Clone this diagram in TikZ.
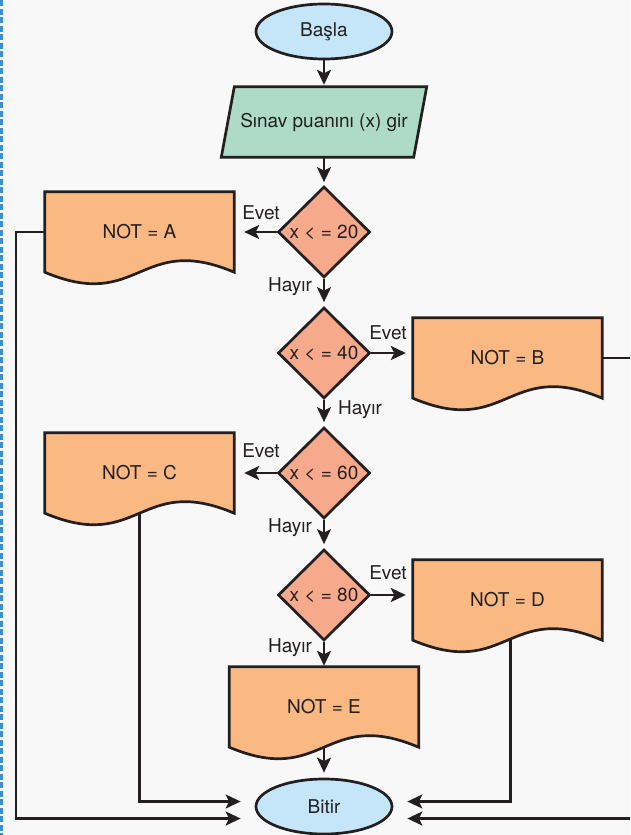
\documentclass[tikz,border=0pt]{standalone}
\usepackage{fontspec}
\setmainfont{TeX Gyre Heros}
\usetikzlibrary{shapes.geometric,arrows.meta}
\pgfdeclarelayer{backdrop}
\pgfdeclarelayer{shapes}
\pgfsetlayers{backdrop,shapes,main}
\definecolor{bgc}{RGB}{248,248,248}
\definecolor{ink}{RGB}{35,31,32}
\definecolor{termfill}{RGB}{197,230,248}
\definecolor{iofill}{RGB}{174,219,200}
\definecolor{decfill}{RGB}{247,169,140}
\definecolor{docfill}{RGB}{250,185,131}
\definecolor{edgeblue}{RGB}{60,140,215}
\tikzset{
 base/.style={font=\fontsize{19}{21}\selectfont, text=ink},
 term/.style={base, ellipse, draw=ink, line width=2.7pt, fill=termfill, minimum width=136pt, minimum height=55pt, inner sep=0pt},
 iobox/.style={base, rectangle, minimum width=192pt, minimum height=70pt, inner sep=0pt},
 ioline/.style={draw=ink, line width=2.7pt, fill=iofill, line join=miter},
 dec/.style={base, diamond, draw=ink, line width=2.7pt, fill=decfill, minimum width=92pt, minimum height=91pt, inner sep=0pt, aspect=1},
 docbox/.style={base, rectangle, minimum width=189pt, minimum height=80pt, inner sep=0pt},
 docline/.style={draw=ink, line width=2.7pt, fill=docfill, line join=miter},
 lbl/.style={base, inner sep=0pt},
 conn/.style={draw=ink, line width=2.6pt, -{Stealth[length=15pt,width=14pt,inset=3.5pt]}},
}
\newcommand{\docpath}[1]{\path[docline] (#1.north west) -- (#1.north east) -- (#1.south east) .. controls ([yshift=40pt]#1.south) and ([yshift=-40pt]#1.south) .. (#1.south west) -- cycle;}
\begin{document}
\begin{tikzpicture}[x=1pt,y=-1pt]
\useasboundingbox (0,0) rectangle (630,835);
\begin{pgfonlayer}{backdrop}
\fill[bgc] (0,0) rectangle (630,835);
\draw[edgeblue, line width=3pt, dash pattern=on 6pt off 2.5pt] (1.5,0) -- (1.5,835);
\end{pgfonlayer}
\clip (0,0) rectangle (630,835);

\node[term] (start) at (324,31.5) {Başla};
\node[iobox] (io) at (324,122) {Sınav puanını (x) gir};
\node[dec] (d1) at (324,232) {x < = 20};
\node[dec] (d2) at (324,353) {x < = 40};
\node[dec] (d3) at (324,473) {x < = 60};
\node[dec] (d4) at (324,595) {x < = 80};
\node[docbox] (A) at (139.5,232) {NOT = A};
\node[docbox] (B) at (507.5,358) {NOT = B};
\node[docbox] (C) at (139.5,473) {NOT = C};
\node[docbox] (D) at (507.5,600) {NOT = D};
\node[docbox] (E) at (324,707) {NOT = E};
\node[term] (end) at (324,806.5) {Bitir};

\begin{pgfonlayer}{shapes}
\path[ioline] ([xshift=-6.5pt]io.south west) -- ([xshift=6.5pt]io.north west) -- ([xshift=6.5pt]io.north east) -- ([xshift=-6.5pt]io.south east) -- cycle;
\docpath{A}
\docpath{B}
\docpath{C}
\docpath{D}
\docpath{E}
\end{pgfonlayer}

\node[lbl] (e1) at (261,213) {Evet};
\node[lbl] (h1) at (290,287) {Hayır};
\node[lbl] (e2) at (388,333) {Evet};
\node[lbl] (h2) at (360,410) {Hayır};
\node[lbl] (e3) at (261,451) {Evet};
\node[lbl] (h3) at (290,528) {Hayır};
\node[lbl] (e4) at (388,573) {Evet};
\node[lbl] (h4) at (290,648) {Hayır};

\draw[conn, shorten >=2pt] (start.south) -- (io.north);
\draw[conn, shorten >=3pt] (io.south) -- (d1.north);
\draw[conn, shorten >=4pt] (d1.south) -- (d2.north);
\draw[conn, shorten >=4pt] (d2.south) -- (d3.north);
\draw[conn, shorten >=4pt] (d3.south) -- (d4.north);
\draw[conn, shorten >=1pt] (d4.south) -- (E.north);
\draw[conn, shorten >=5pt] (E.south) -- (end.north);

\draw[conn, shorten >=10pt] (d1.west) -- (d1.west -| A.east);
\draw[conn, shorten >=7pt] (d2.east) -- (d2.east -| B.west);
\draw[conn, shorten >=10pt] (d3.west) -- (d3.west -| C.east);
\draw[conn, shorten >=7pt] (d4.east) -- (d4.east -| D.west);

\draw[conn] (A.west) -- ++(-29,0) |- ([xshift=-14pt,yshift=-12pt]end.west);
\draw[conn] (C.south) |- ([xshift=-14pt,yshift=5pt]end.west);
\draw[conn] ([xshift=3pt]D.south) |- ([xshift=14pt,yshift=5pt]end.east);
\draw[conn] (B.east) -- ++(40,0) |- ([xshift=14pt,yshift=-12pt]end.east);
\end{tikzpicture}
\end{document}
